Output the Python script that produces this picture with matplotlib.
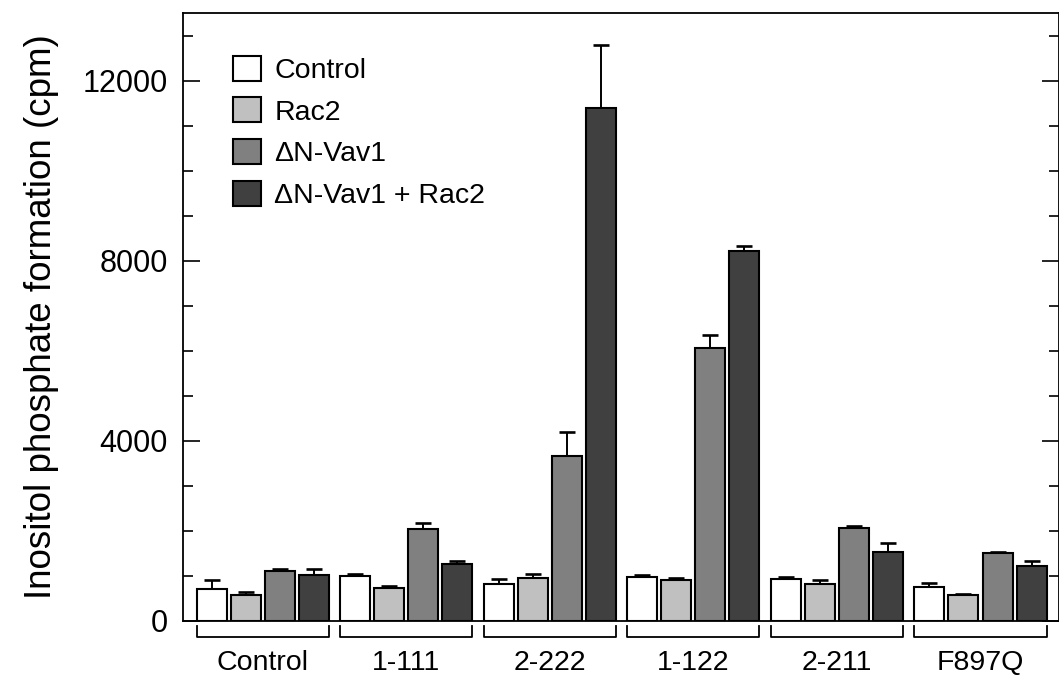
import numpy as np
import matplotlib
matplotlib.use("Agg")
from matplotlib import pyplot as plt
from matplotlib.ticker import MultipleLocator

plt.rcParams['font.family'] = ['Liberation Sans', 'DejaVu Sans']

groups = ['Control', '1-111', '2-222', '1-122', '2-211', 'F897Q']
series = ['Control', 'Rac2', '\u0394N-Vav1', '\u0394N-Vav1 + Rac2']
colors = ['#ffffff', '#c0c0c0', '#808080', '#404040']

# mean values (cpm) per group, one list per series
ctrl_vals = [700, 990, 830, 985, 930, 760]
rac2_vals = [585, 730, 950, 920, 830, 585]
vav_vals = [1100, 2045, 3670, 6070, 2060, 1515]
vav_rac2_vals = [1020, 1270, 11380, 8220, 1530, 1220]

# upper error bars
ctrl_err = [210, 50, 110, 30, 40, 80]
rac2_err = [50, 50, 95, 30, 80, 25]
vav_err = [60, 125, 520, 285, 45, 25]
vav_rac2_err = [140, 70, 1420, 110, 200, 120]

values = [ctrl_vals, rac2_vals, vav_vals, vav_rac2_vals]
errors = [ctrl_err, rac2_err, vav_err, vav_rac2_err]

fig = plt.figure(figsize=(10.59, 6.83), dpi=100)
ax = fig.add_axes([183 / 1059, 62 / 683, 876 / 1059, 608 / 683])

x = np.arange(len(groups))
step = 0.237
width = 0.209
for k in range(len(series)):
    pos = x + (k - 1.5) * step
    ax.bar(pos, values[k], width, color=colors[k], edgecolor='black',
           linewidth=1.5, label=series[k], zorder=2)
    ax.errorbar(pos, values[k], yerr=[np.zeros(len(groups)), errors[k]],
                fmt='none', ecolor='black', elinewidth=1.4, capsize=5.5,
                capthick=1.9, zorder=1)

ax.set_xlim(-0.557, 5.547)
ax.set_ylim(0, 13500)

ax.yaxis.set_major_locator(MultipleLocator(4000))
ax.yaxis.set_minor_locator(MultipleLocator(1000))
ax.tick_params(axis='y', which='major', direction='in', length=12, width=1.2,
               labelsize=22, pad=11, right=True)
ax.tick_params(axis='y', which='minor', direction='in', length=7, width=1.2,
               right=True)
ax.set_ylabel('Inositol phosphate formation (cpm)', fontsize=26.5, labelpad=17)

ax.set_xticks(x)
ax.set_xticklabels(groups)
ax.tick_params(axis='x', length=0, labelsize=20.5, pad=21)

for sp in ax.spines.values():
    sp.set_linewidth(1.3)

# brackets under each group
tr = ax.get_xaxis_transform()
half = 1.5 * step + width / 2
for g in x:
    ax.plot([g - half, g - half, g + half, g + half], [-0.008, -0.026, -0.026, -0.008],
            color='black', linewidth=1.3, transform=tr, clip_on=False)

ax.legend(loc='upper left', bbox_to_anchor=(0.057, 0.93), frameon=False,
          fontsize=20.5, handlelength=1.0, handleheight=0.98, labelspacing=0.47,
          handletextpad=0.45, borderpad=0, borderaxespad=0)

fig.savefig('out.png', dpi=100)
